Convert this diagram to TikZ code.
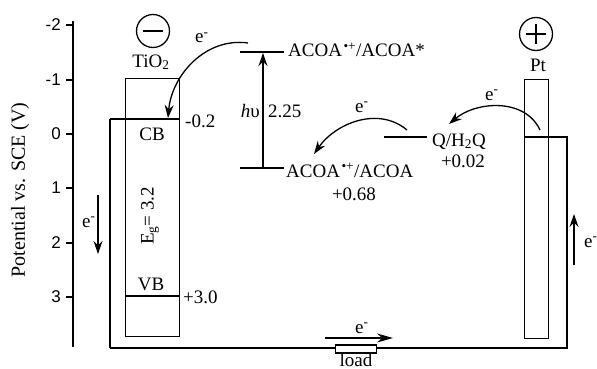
\documentclass[tikz,border=0pt]{standalone}
\usepackage{fontspec}
\setmainfont{Liberation Serif}
\newfontfamily\tickfont{Liberation Sans}
\usetikzlibrary{arrows.meta}
\begin{document}
\begin{tikzpicture}[x=1pt,y=1pt,
  every node/.style={font=\fontsize{19}{21}\selectfont, inner sep=0pt},
  ln/.style={line width=1.3pt},
  wire/.style={line width=1.8pt},
  arr/.style={line width=1.3pt,-{Stealth[length=13pt,width=9pt]}},
  bigarr/.style={line width=1.4pt,-{Stealth[length=16pt,width=9pt]}},
  ticklab/.style={font=\tickfont\fontsize{17}{19}\selectfont, anchor=east},
  lbl/.style={anchor=base west},
  elbl/.style={anchor=base west},
  sign/.style={draw, circle, line width=1.3pt, minimum size=33pt},
  box/.style={draw, line width=1.3pt, anchor=north west},
]
\useasboundingbox (0,0) rectangle (597,-369);

% axis
\draw[line width=1.5pt] (73,-21) -- (73,-347);
\foreach \v/\y in {-2/25,-1/80,0/134,1/188,2/243,3/297}{
  \draw[ln] (66,-\y) -- (73,-\y);
  \node[ticklab] at (61,-\y) {\v};
}
\node[rotate=90, font=\fontsize{20}{22}\selectfont] (ylab) at (20,-190) {Potential vs. SCE (V)};

% wire circuit
\draw[ln] (110,-119) -- (110,-348);
\draw[wire] (110,-348) -- (567,-348) -- (567,-137) -- (525,-137);
\draw[ln] (110,-119) -- (179,-119);

% TiO2 electrode
\node[box, minimum width=54pt, minimum height=258pt] (tio2) at (125,-78) {};
\draw[ln] (125,-296) -- (179,-296);
\node[sign] (minus) at (153,-31) {};
\draw[ln] ([xshift=-10pt]minus.center) -- ([xshift=10pt]minus.center);
\node[anchor=base] (tiolab) at (151,-67) {TiO\textsubscript{2}};
\node[anchor=base] (cb) at (152,-140) {CB};
\node[lbl] (cbv) at (185,-127) {-0.2};
\node[anchor=base] (vb) at (151,-290) {VB};
\node[lbl] (vbv) at (183,-303) {+3.0};
\node[rotate=90] (eg) at (150,-216) {E\textsubscript{g}= 3.2};

% Pt electrode
\node[box, minimum width=24pt, minimum height=259pt] (pt) at (524,-79) {};
\node[sign] (plus) at (536,-34) {};
\draw[ln] ([xshift=-10pt]plus.center) -- ([xshift=10pt]plus.center);
\draw[ln] ([yshift=-10pt]plus.center) -- ([yshift=10pt]plus.center);
\node[anchor=base] (ptlab) at (538,-72) {Pt};

% dye levels
\draw[ln] (240,-52) coordinate (exL) -- (284,-52) coordinate (exR);
\draw[ln] (240,-168) coordinate (gsL) -- (284,-168) coordinate (gsR);
\node[lbl] (exlab) at (288,-57) {ACOA\textsuperscript{\kern1.5pt•+}/ACOA*};
\node[lbl] (gslab) at (286,-177) {ACOA\textsuperscript{\kern1.5pt•+}/ACOA};
\node[anchor=base] (gsv) at (354,-200) {+0.68};
\coordinate (hvb) at (263,-168);
\coordinate (hvt) at (263,-53);
\draw[arr] (hvb) -- (hvt);
\node[anchor=base east] (hv) at (260,-117) {\textit{h}υ};
\node[lbl] (dE) at (268,-117) {2.25};

% redox couple
\draw[ln] (384,-137) coordinate (qL) -- (427,-137) coordinate (qR);
\node[lbl] (qlab) at (432,-146) {Q/H\textsubscript{2}Q};
\node[anchor=base] (qv) at (463,-167) {+0.02};

% electron transfer arrows
\coordinate (a1s) at (248,-43);
\coordinate (a1e) at (168,-118);
\draw[arr] (a1s) to[out=172,in=85] (a1e);
\node[elbl] (e1) at (195,-43) {e\textsuperscript{-}};

\coordinate (a2s) at (407,-130);
\coordinate (a2e) at (314,-154);
\draw[arr] (a2s) to[out=140,in=55] (a2e);
\node[elbl] (e2) at (355,-112) {e\textsuperscript{-}};

\coordinate (a3s) at (540,-130);
\coordinate (a3e) at (449,-124);
\draw[arr] (a3s) to[out=115,in=40] (a3e);
\node[elbl] (e3) at (485,-100) {e\textsuperscript{-}};

% circuit arrows
\coordinate (d1) at (98,-195);
\coordinate (d2) at (98,-254);
\draw[arr] (d1) -- (d2);
\node[elbl] (e4) at (82,-227) {e\textsuperscript{-}};

\coordinate (u1) at (574,-265);
\coordinate (u2) at (574,-214);
\draw[arr] (u1) -- (u2);
\node[elbl] (e5) at (584,-247) {e\textsuperscript{-}};

\coordinate (b1) at (325,-338);
\coordinate (b2) at (393,-338);
\draw[bigarr] (b1) -- (b2);
\node[elbl] (e6) at (355,-333) {e\textsuperscript{-}};

% load
\node[draw, fill=white, line width=1.3pt, minimum width=41pt, minimum height=8pt] (load) at (356,-349) {};
\node[anchor=base] (loadlab) at (356,-366) {load};
\end{tikzpicture}
\end{document}
